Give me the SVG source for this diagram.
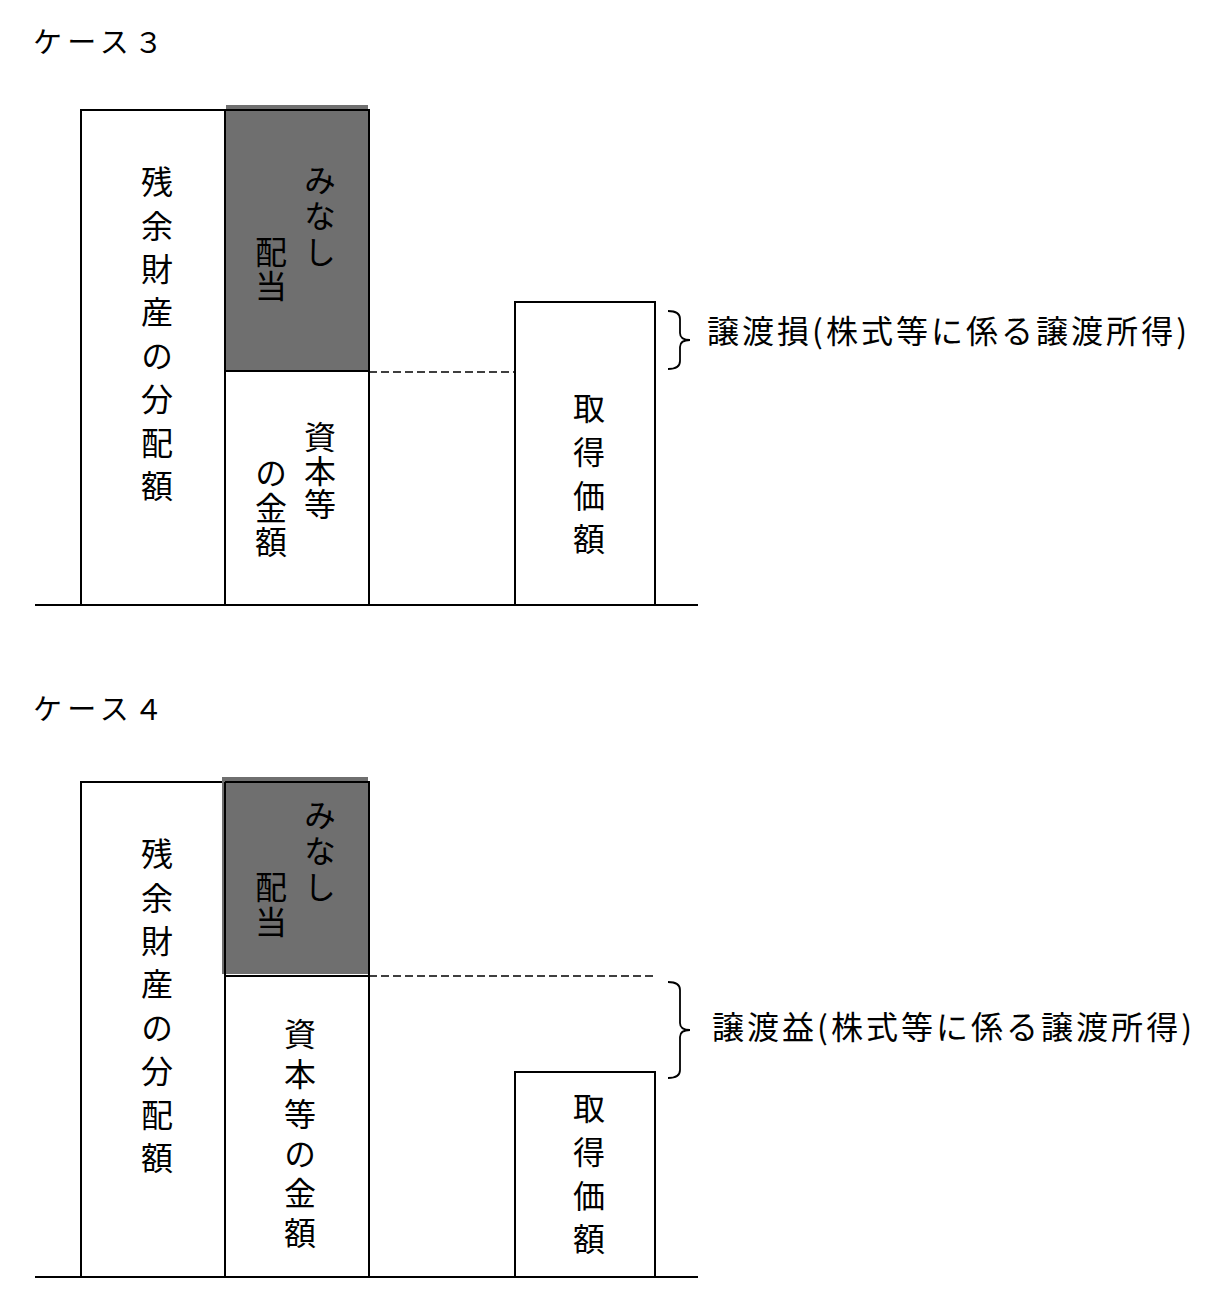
<svg xmlns="http://www.w3.org/2000/svg" width="1220" height="1310" viewBox="0 0 1220 1310">
<style>
.box{fill:#ffffff;stroke:#000000;stroke-width:2}
.gray{fill:#6f6f6f;stroke:none}
.edge{fill:none;stroke:#000000;stroke-width:2}
.dash{fill:none;stroke:#000000;stroke-width:1.6;stroke-dasharray:8 4}
.brace{fill:none;stroke:#000000;stroke-width:1.8}
.v{font-family:"Noto Sans CJK JP","Noto Sans CJK SC",sans-serif;font-size:32px;fill:#000000;writing-mode:vertical-rl;text-anchor:start}
.lbl{font-family:"Noto Sans CJK JP","Noto Sans CJK SC",sans-serif;font-size:32px;fill:#000000;dominant-baseline:central}
.title{font-family:"Noto Sans CJK JP","Noto Sans CJK SC",sans-serif;font-size:29px;fill:#000000}
</style>
<rect width="1220" height="1310" fill="#ffffff"/>

<!-- ===== Case 3 ===== -->
<g id="title3"><text class="title" x="33" y="53" textLength="130" lengthAdjust="spacing">ケース３</text></g>

<g id="c3-residual">
<rect class="box" x="81" y="110" width="144" height="495"/>
<text class="v" x="157" y="166" letter-spacing="11.4">残余財産の分配額</text>
</g>

<g id="c3-deemed">
<rect class="gray" x="226" y="105" width="142" height="265"/>
<path class="edge" d="M225,110 H370 M369,110 V370"/>
<text class="v" x="320" y="164" letter-spacing="4">みなし</text>
<text class="v" x="271" y="236" letter-spacing="2">配当</text>
</g>

<g id="c3-capital">
<rect class="box" x="225" y="371" width="144" height="234"/>
<text class="v" x="320" y="421" letter-spacing="1.5">資本等</text>
<text class="v" x="271" y="457" letter-spacing="2.5">の金額</text>
</g>

<g id="c3-cost">
<rect class="box" x="515" y="302" width="140" height="303"/>
<text class="v" x="589" y="392" letter-spacing="11.7">取得価額</text>
</g>

<g id="c3-label">
<text class="lbl" x="707" y="329" textLength="480" lengthAdjust="spacing">譲渡損(株式等に係る譲渡所得)</text>
</g>

<!-- ===== Case 4 ===== -->
<g id="title4"><text class="title" x="33" y="720" textLength="130" lengthAdjust="spacing">ケース４</text></g>

<g id="c4-residual">
<rect class="box" x="81" y="782" width="144" height="495"/>
<text class="v" x="157" y="838" letter-spacing="11.4">残余財産の分配額</text>
</g>

<g id="c4-deemed">
<rect class="gray" x="222" y="777" width="146" height="197"/>
<path class="edge" d="M225,782 H370 M369,782 V976 M225,782 V976"/>
<text class="v" x="320" y="799" letter-spacing="4">みなし</text>
<text class="v" x="271" y="871" letter-spacing="3">配当</text>
</g>

<g id="c4-capital">
<rect class="box" x="225" y="976" width="144" height="301"/>
<text class="v" x="300" y="1018" letter-spacing="7.8">資本等の金額</text>
</g>

<g id="c4-cost">
<rect class="box" x="515" y="1072" width="140" height="205"/>
<text class="v" x="589" y="1092" letter-spacing="11.7">取得価額</text>
</g>

<g id="c4-label">
<text class="lbl" x="712" y="1025" textLength="480" lengthAdjust="spacing">譲渡益(株式等に係る譲渡所得)</text>
</g>

<!-- ===== Connectors / guide lines ===== -->
<g id="connectors">
<line class="edge" x1="35" y1="605" x2="698" y2="605"/>
<line class="dash" x1="369" y1="372" x2="515" y2="372"/>
<path class="brace" d="M668,311 Q680,311 680,319 L680,333 Q680,340 690,340 Q680,340 680,347 L680,361 Q680,369 668,369"/>

<line class="edge" x1="35" y1="1277" x2="698" y2="1277"/>
<line class="dash" x1="369" y1="976" x2="655" y2="976"/>
<path class="brace" d="M668,982 Q680,982 680,990 L680,1023 Q680,1030 690,1030 Q680,1030 680,1037 L680,1070 Q680,1078 668,1078"/>
</g>
</svg>
